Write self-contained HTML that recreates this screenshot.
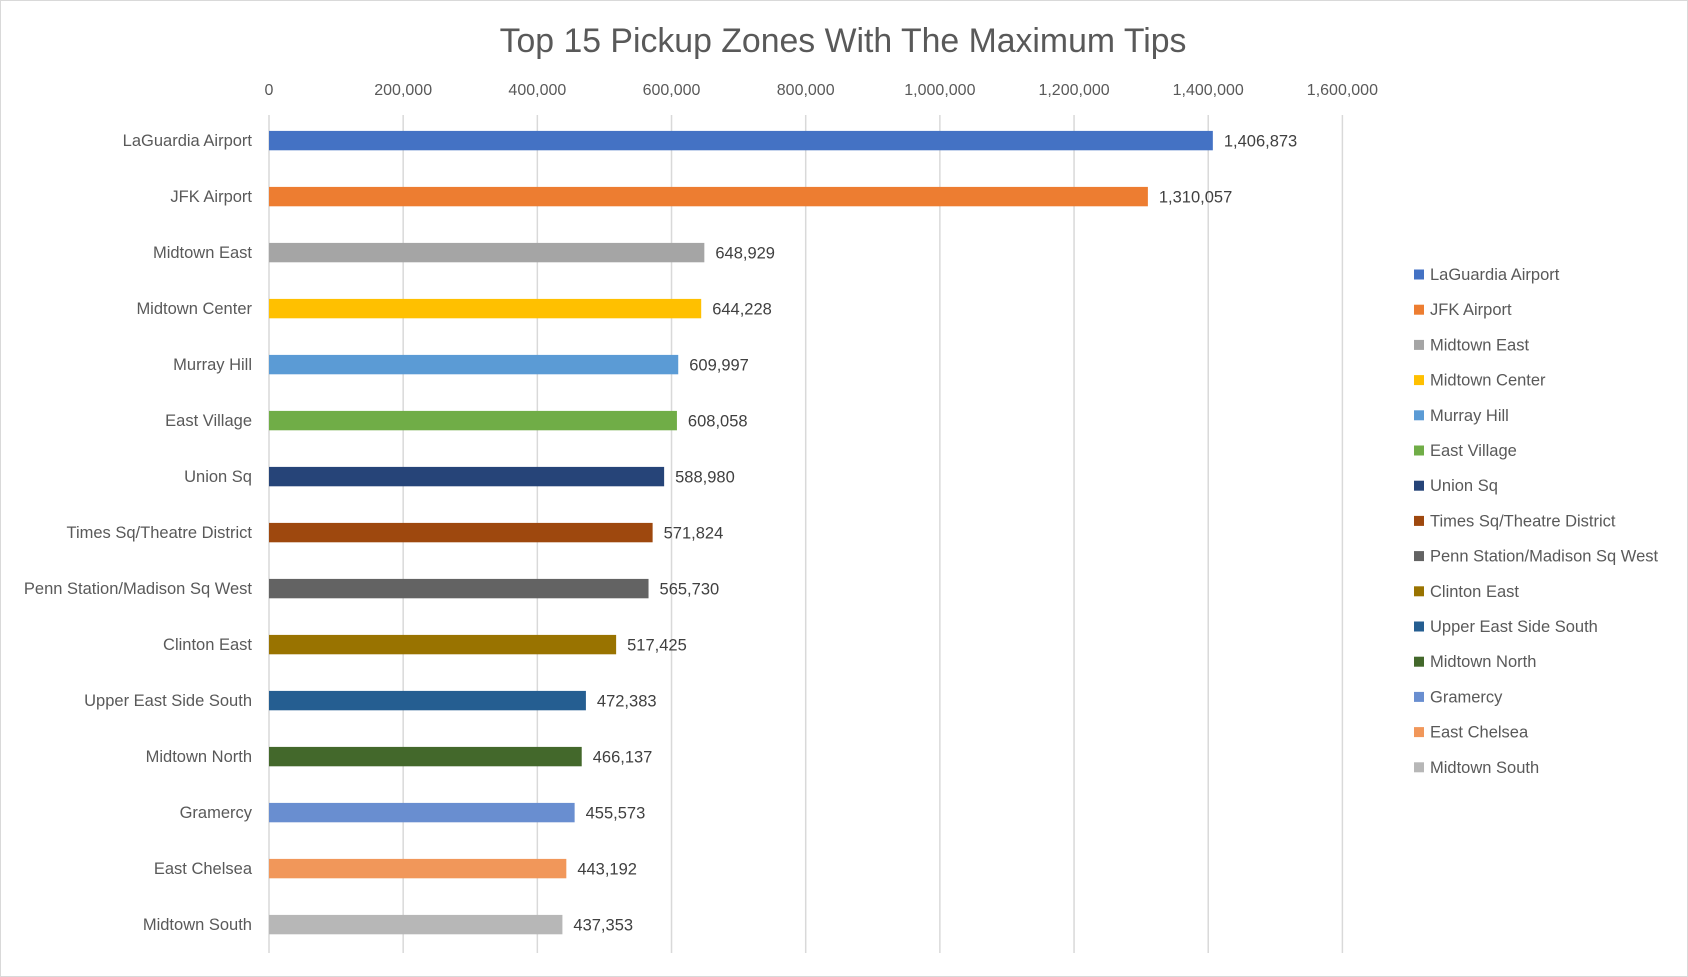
<!DOCTYPE html>
<html><head><meta charset="utf-8"><style>
body{margin:0;background:#fff;}
svg{display:block;font-family:"Liberation Sans",sans-serif;}
</style></head><body>
<svg id="chart" width="1688" height="977">
<rect x="0.5" y="0.5" width="1687" height="976" fill="#fff" stroke="#d9d9d9"/>
<text x="843" y="52" text-anchor="middle" font-size="33.8" fill="#595959">Top 15 Pickup Zones With The Maximum Tips</text>
<g id="grid"></g><g id="bars"></g><g id="legend"></g>
</svg>
<script>
const categories=["LaGuardia Airport","JFK Airport","Midtown East","Midtown Center","Murray Hill","East Village","Union Sq","Times Sq/Theatre District","Penn Station/Madison Sq West","Clinton East","Upper East Side South","Midtown North","Gramercy","East Chelsea","Midtown South"];
const values=[1406873,1310057,648929,644228,609997,608058,588980,571824,565730,517425,472383,466137,455573,443192,437353];
const colors=["#4472c4","#ed7d31","#a5a5a5","#ffc000","#5b9bd5","#70ad47","#264478","#9e480e","#636363","#997300","#255e91","#43682b","#698ed0","#f1975a","#b7b7b7"];
const ticks=[0,200000,400000,600000,800000,1000000,1200000,1400000,1600000];
const NS="http://www.w3.org/2000/svg";
const x0=269,x1=1342.4,xmax=1600000;
const xs=v=>x0+(x1-x0)*v/xmax;
const yTop=112.6,step=56.0;
const yc=i=>yTop+step*(i+0.5);
const fmt=v=>v.toLocaleString("en-US");
function mk(t,a,p){const e=document.createElementNS(NS,t);for(const k in a)e.setAttribute(k,a[k]);p.appendChild(e);return e;}
const grid=document.getElementById("grid"),bars=document.getElementById("bars"),leg=document.getElementById("legend");
ticks.forEach(t=>{
 const l=mk("line",{x1:xs(t),x2:xs(t),y1:115,y2:953,stroke:"#d9d9d9","stroke-width":1.5},grid);
 
 
 const tx=mk("text",{x:xs(t),y:95,"text-anchor":"middle","font-size":16,fill:"#595959"},grid);
 tx.textContent=fmt(t);
 
 
});
categories.forEach((c,i)=>{
 const y=yc(i);
 const r=mk("rect",{x:x0,y:y-9.7,width:xs(values[i])-x0,height:19.4,fill:colors[i]},bars);
 
 
 const cl=mk("text",{x:252,y:y+5.5,"text-anchor":"end","font-size":16.5,fill:"#595959"},bars);
 cl.textContent=c;
 
 
 const vl=mk("text",{x:xs(values[i])+11,y:y+6,"font-size":16.5,fill:"#404040"},bars);
 vl.textContent=fmt(values[i]);
 
 
 const ly=274.5+35.2*i;
 const g=mk("g",{},leg);
 
 
 mk("rect",{x:1414,y:ly-5,width:10,height:10,fill:colors[i]},g);
 const lt=mk("text",{x:1430,y:ly+5.5,"font-size":16.5,fill:"#595959"},g);
 lt.textContent=c;
});
</script>
</body></html>
